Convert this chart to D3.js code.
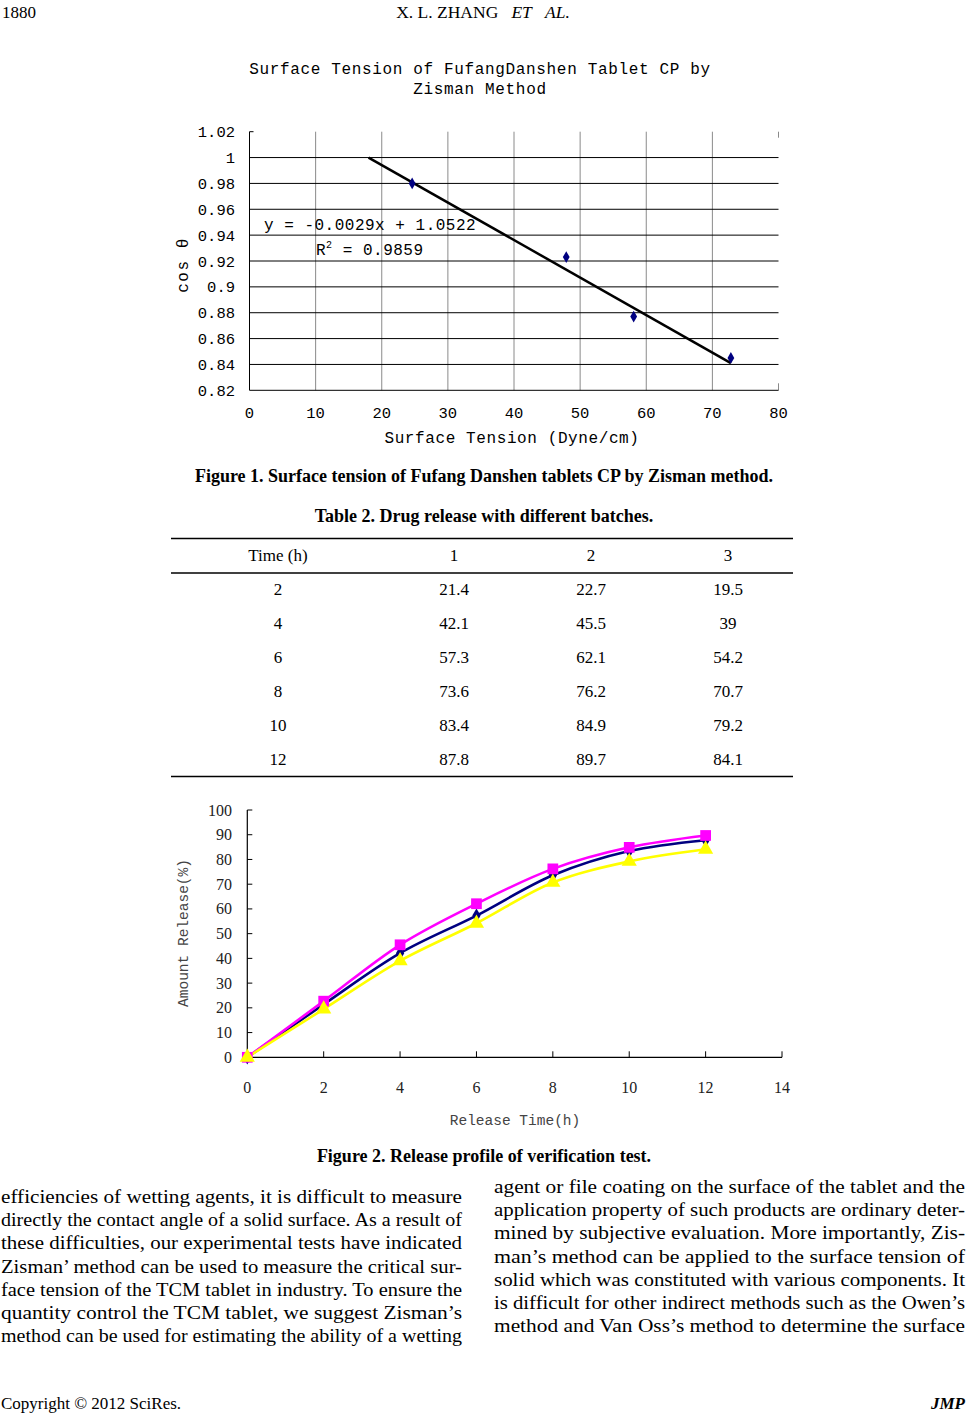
<!DOCTYPE html>
<html><head><meta charset="utf-8">
<script src="https://cdn.jsdelivr.net/npm/d3@7"></script>
<style>
html,body{margin:0;padding:0;background:#fff;}
svg{display:block;}
.serif{font-family:"Liberation Serif","Times New Roman",serif;}
.mono{font-family:"Liberation Mono","DejaVu Sans Mono",monospace;}
</style></head>
<body>
<script>
// ---------- Figure 1 data (Zisman plot) ----------
const zisX = [24.6, 47.9, 58.1, 72.8];          // surface tension (dyne/cm)
const zisY = [0.980, 0.923, 0.877, 0.845];      // cos theta
const fitSlope = -0.0029, fitIntercept = 1.0522;
const fitRange = [18, 72.8];
const fig1XTicks = [0, 10, 20, 30, 40, 50, 60, 70, 80];
const fig1YTicks = [0.82, 0.84, 0.86, 0.88, 0.9, 0.92, 0.94, 0.96, 0.98, 1, 1.02];
const fig1YLabels = ["0.82","0.84","0.86","0.88","0.9","0.92","0.94","0.96","0.98","1","1.02"];

// ---------- Table 2 / Figure 2 data ----------
const timeH = [0, 2, 4, 6, 8, 10, 12];
const batch1 = [0, 21.4, 42.1, 57.3, 73.6, 83.4, 87.8];
const batch2 = [0, 22.7, 45.5, 62.1, 76.2, 84.9, 89.7];
const batch3 = [0, 19.5, 39, 54.2, 70.7, 79.2, 84.1];
const fig2XTicks = [0, 2, 4, 6, 8, 10, 12, 14];
const fig2YTicks = [0, 10, 20, 30, 40, 50, 60, 70, 80, 90, 100];
const tableHeader = ["Time (h)", "1", "2", "3"];

// ---------- body text ----------
const leftLines = [
 "efficiencies of wetting agents, it is difficult to measure",
 "directly the contact angle of a solid surface. As a result of",
 "these difficulties, our experimental tests have indicated",
 "Zisman\u2019 method can be used to measure the critical sur-",
 "face tension of the TCM tablet in industry. To ensure the",
 "quantity control the TCM tablet, we suggest Zisman\u2019s",
 "method can be used for estimating the ability of a wetting"];
const rightLines = [
 "agent or file coating on the surface of the tablet and the",
 "application property of such products are ordinary deter-",
 "mined by subjective evaluation. More importantly, Zis-",
 "man\u2019s method can be applied to the surface tension of",
 "solid which was constituted with various components. It",
 "is difficult for other indirect methods such as the Owen\u2019s",
 "method and Van Oss\u2019s method to determine the surface"];

const W = 967, H = 1414;
const svg = d3.select("body").append("svg").attr("width", W).attr("height", H);
svg.append("rect").attr("width", W).attr("height", H).attr("fill", "#fff");

// ---------- page header ----------
svg.append("text").attr("class","serif").attr("x",2).attr("y",18).attr("font-size",17).text("1880");
const hdr = svg.append("text").attr("class","serif").attr("x",483).attr("y",18).attr("font-size",17.5).attr("text-anchor","middle");
hdr.append("tspan").text("X. L. ZHANG\u00a0\u00a0\u00a0");
hdr.append("tspan").attr("font-style","italic").text("ET\u00a0\u00a0\u00a0AL.");

// ================= Figure 1 =================
const g1 = svg.append("g");
const x1 = d3.scaleLinear().domain([0, 80]).range([249.5, 778.5]);
const y1 = d3.scaleLinear().domain([0.82, 1.02]).range([390.3, 131.7]);

g1.append("text").attr("class","mono").attr("x",480).attr("y",74).attr("font-size",16)
  .attr("text-anchor","middle").attr("letter-spacing",0.65).text("Surface Tension of FufangDanshen Tablet CP by");
g1.append("text").attr("class","mono").attr("x",480).attr("y",94).attr("font-size",16)
  .attr("text-anchor","middle").attr("letter-spacing",0.65).text("Zisman Method");

// vertical gridlines (gray)
g1.selectAll("line.vg").data(fig1XTicks.filter(d => d > 0 && d < 80)).enter().append("line")
  .attr("x1", d => x1(d)).attr("x2", d => x1(d)).attr("y1", y1(1.02)).attr("y2", y1(0.82))
  .attr("stroke", "#8a8a8a").attr("stroke-width", 1);
// tick marks at 80 (top and bottom)
g1.append("line").attr("x1", x1(80)).attr("x2", x1(80)).attr("y1", y1(1.02)).attr("y2", y1(1.02)+6).attr("stroke","#8a8a8a");
g1.append("line").attr("x1", x1(80)).attr("x2", x1(80)).attr("y1", y1(0.82)-7).attr("y2", y1(0.82)).attr("stroke","#8a8a8a");
// horizontal gridlines (black)
g1.selectAll("line.hg").data(fig1YTicks.filter(d => d > 0.83 && d < 1.01)).enter().append("line")
  .attr("x1", x1(0)).attr("x2", x1(80)).attr("y1", d => y1(d)).attr("y2", d => y1(d))
  .attr("stroke", "#000").attr("stroke-width", 1);
// axes
g1.append("line").attr("x1", x1(0)).attr("x2", x1(80)).attr("y1", y1(0.82)).attr("y2", y1(0.82)).attr("stroke","#000");
g1.append("line").attr("x1", x1(0)).attr("x2", x1(0)).attr("y1", y1(1.02)).attr("y2", y1(0.82)).attr("stroke","#000");
g1.append("line").attr("x1", x1(0)).attr("x2", x1(0)+4).attr("y1", y1(1.02)).attr("y2", y1(1.02)).attr("stroke","#000");

// tick labels
g1.selectAll("text.yt").data(fig1YTicks).enter().append("text").attr("class","mono")
  .attr("x", 235).attr("y", d => y1(d) + 5.5).attr("text-anchor","end").attr("font-size",15.5)
  .text((d,i) => fig1YLabels[i]);
g1.selectAll("text.xt").data(fig1XTicks).enter().append("text").attr("class","mono")
  .attr("x", d => x1(d)).attr("y", 418).attr("text-anchor","middle").attr("font-size",15.5)
  .text(d => d);
g1.append("text").attr("class","mono").attr("x",512).attr("y",443).attr("font-size",16)
  .attr("text-anchor","middle").attr("letter-spacing",0.6).text("Surface Tension (Dyne/cm)");
g1.append("text").attr("class","mono").attr("transform","translate(188,265) rotate(-90)")
  .attr("font-size",16).attr("text-anchor","middle").attr("letter-spacing",1.5).text("cos \u03b8");

// fit line
g1.append("line").attr("x1", x1(fitRange[0])).attr("y1", y1(fitSlope*fitRange[0]+fitIntercept))
  .attr("x2", x1(fitRange[1])).attr("y2", y1(fitSlope*fitRange[1]+fitIntercept))
  .attr("stroke","#000").attr("stroke-width",2.5);
// markers
const diamond = d3.symbol().type(d3.symbolDiamond).size(40);
g1.selectAll("path.pt").data(zisX).enter().append("path")
  .attr("d", diamond).attr("transform", (d,i) => `translate(${x1(d)},${y1(zisY[i])})`)
  .attr("fill", "#000080");
// equation
g1.append("text").attr("class","mono").attr("x",264).attr("y",230).attr("font-size",16)
  .attr("letter-spacing",0.5).text("y = -0.0029x + 1.0522");
const r2 = g1.append("text").attr("class","mono").attr("x",316).attr("y",255).attr("font-size",16).attr("letter-spacing",0.5);
r2.append("tspan").text("R");
r2.append("tspan").attr("dy",-7).attr("font-size",10).text("2");
r2.append("tspan").attr("dy",7).text(" = 0.9859");

// captions
svg.append("text").attr("class","serif").attr("x",484).attr("y",482).attr("font-size",18)
  .attr("font-weight","bold").attr("text-anchor","middle")
  .text("Figure 1. Surface tension of Fufang Danshen tablets CP by Zisman method.");
svg.append("text").attr("class","serif").attr("x",484).attr("y",522).attr("font-size",18)
  .attr("font-weight","bold").attr("text-anchor","middle")
  .text("Table 2. Drug release with different batches.");

// ================= Table 2 =================
const colX = [278, 454, 591, 728];
const tbl = svg.append("g").attr("class","serif");
[538.5, 573, 776.5].forEach(y => tbl.append("line").attr("x1",171).attr("x2",793).attr("y1",y).attr("y2",y)
  .attr("stroke","#000").attr("stroke-width",1.3));
tbl.selectAll("text.h").data(tableHeader).enter().append("text")
  .attr("x",(d,i)=>colX[i]).attr("y",561).attr("text-anchor","middle").attr("font-size",17).text(d=>d);
const rowY = [595, 628.5, 662.5, 696.5, 730.5, 764.5];
timeH.slice(1).forEach((t, r) => {
  const vals = [t, batch1[r+1], batch2[r+1], batch3[r+1]];
  vals.forEach((v, c) => tbl.append("text").attr("x", colX[c]).attr("y", rowY[r])
    .attr("text-anchor","middle").attr("font-size",17).text(v));
});

// ================= Figure 2 =================
const g2 = svg.append("g");
const x2 = d3.scaleLinear().domain([0, 14]).range([247.3, 782]);
const y2 = d3.scaleLinear().domain([0, 100]).range([1057.3, 810]);

g2.append("line").attr("x1",x2(0)).attr("x2",x2(0)).attr("y1",y2(100)).attr("y2",y2(0)).attr("stroke","#000").attr("stroke-width",1.2);
g2.append("line").attr("x1",x2(0)).attr("x2",x2(14)).attr("y1",y2(0)).attr("y2",y2(0)).attr("stroke","#000").attr("stroke-width",1.2);
g2.selectAll("line.yt").data(fig2YTicks).enter().append("line")
  .attr("x1",x2(0)).attr("x2",x2(0)+5).attr("y1",d=>y2(d)).attr("y2",d=>y2(d)).attr("stroke","#000");
g2.selectAll("line.xt").data(fig2XTicks).enter().append("line")
  .attr("x1",d=>x2(d)).attr("x2",d=>x2(d)).attr("y1",y2(0)-6).attr("y2",y2(0)).attr("stroke","#000");
g2.selectAll("text.yl").data(fig2YTicks).enter().append("text").attr("class","serif")
  .attr("x",232).attr("y",d=>y2(d)+5.5).attr("text-anchor","end").attr("font-size",16).attr("fill","#222").text(d=>d);
g2.selectAll("text.xl").data(fig2XTicks).enter().append("text").attr("class","serif")
  .attr("x",d=>x2(d)).attr("y",1093).attr("text-anchor","middle").attr("font-size",16).attr("fill","#222").text(d=>d);
g2.append("text").attr("class","mono").attr("x",515).attr("y",1125).attr("text-anchor","middle")
  .attr("font-size",14.5).attr("fill","#444").text("Release Time(h)");
g2.append("text").attr("class","mono").attr("transform","translate(188,933) rotate(-90)")
  .attr("text-anchor","middle").attr("font-size",14.5).attr("fill","#444").text("Amount Release(%)");

const series = [
  {vals: batch1, color: "#000080", sym: d3.symbolDiamond, size: 60},
  {vals: batch2, color: "#ff00ff", sym: d3.symbolSquare, size: 115},
  {vals: batch3, color: "#ffff00", sym: d3.symbolTriangle, size: 100}
];
const line2 = d3.line().x((d,i)=>x2(timeH[i])).y(d=>y2(d)).curve(d3.curveCatmullRom.alpha(0.5));
series.forEach(s => {
  g2.append("path").attr("d", line2(s.vals)).attr("fill","none").attr("stroke",s.color).attr("stroke-width",2.6);
});
series.forEach(s => {
  g2.selectAll(null).data(s.vals).enter().append("path")
    .attr("d", d3.symbol().type(s.sym).size(s.size))
    .attr("transform",(d,i)=>`translate(${x2(timeH[i])},${y2(d)})`).attr("fill",s.color);
});

svg.append("text").attr("class","serif").attr("x",484).attr("y",1162).attr("font-size",18)
  .attr("font-weight","bold").attr("text-anchor","middle").text("Figure 2. Release profile of verification test.");

// ================= body text =================
const body = svg.append("g").attr("class","serif");
leftLines.forEach((t,i) => body.append("text").attr("x",1).attr("y",1203 + i*23.2).attr("font-size",18.5)
  .attr("textLength",461).attr("lengthAdjust","spacingAndGlyphs").text(t));
rightLines.forEach((t,i) => body.append("text").attr("x",494).attr("y",1193 + i*23.2).attr("font-size",18.5)
  .attr("textLength",471).attr("lengthAdjust","spacingAndGlyphs").text(t));

svg.append("text").attr("class","serif").attr("x",1).attr("y",1409).attr("font-size",17).text("Copyright \u00a9 2012 SciRes.");
svg.append("text").attr("class","serif").attr("x",965).attr("y",1409).attr("font-size",17)
  .attr("text-anchor","end").attr("font-weight","bold").attr("font-style","italic").text("JMP");
</script>
</body></html>
